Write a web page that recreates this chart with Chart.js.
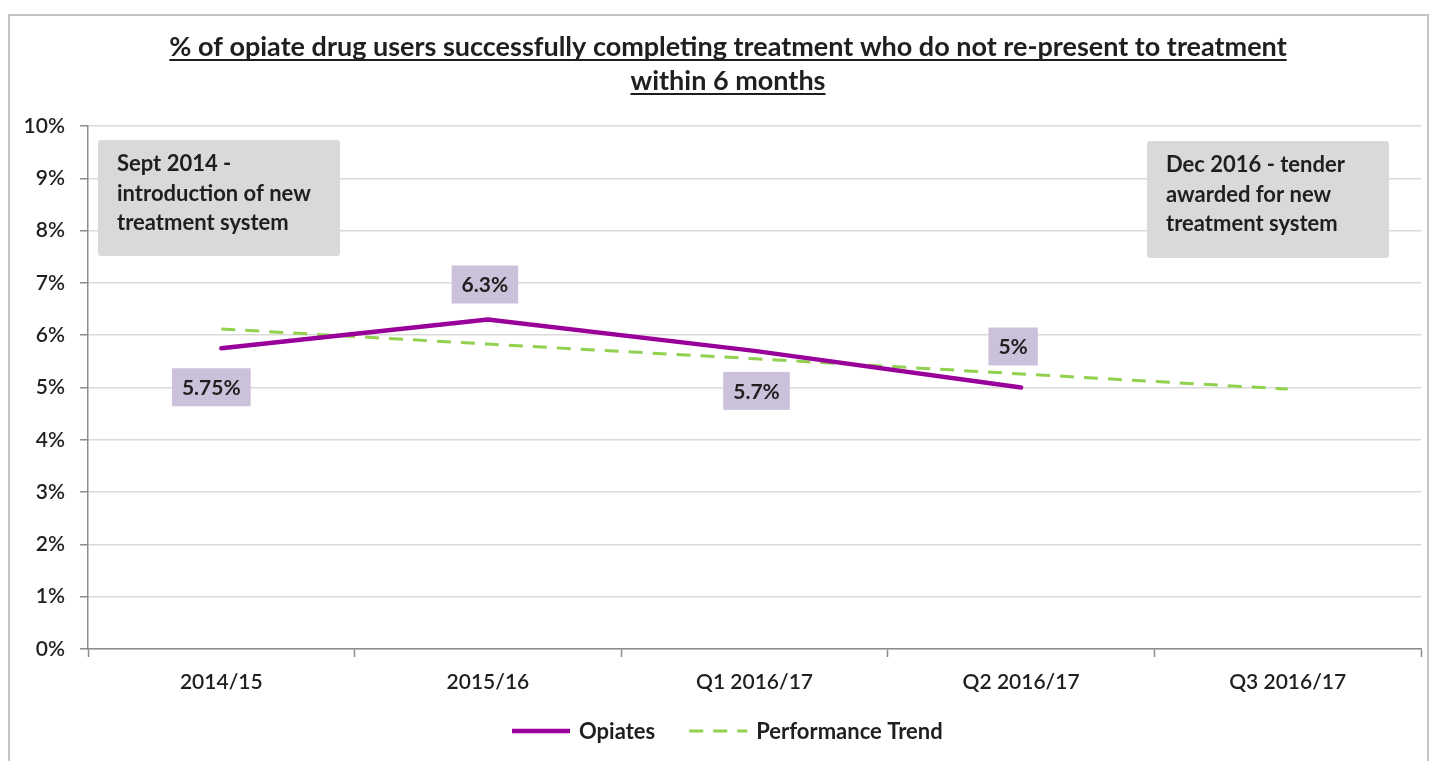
<!DOCTYPE html>
<html lang="en">
<head>
    <meta charset="UTF-8">
    <title>Opiate treatment completions</title>
    <script src="https://cdn.jsdelivr.net/npm/chart.js"></script>
    <style>
        body {
            margin: 0;
            width: 1431px;
            height: 761px;
            overflow: hidden;
            background: #fff;
            font-family: Lato, Arial, sans-serif;
        }
        .frame {
            position: absolute;
            left: 8px;
            top: 14px;
            width: 1417px;
            height: 800px;
            border: 2px solid #c4c4c4;
        }
        .wrap {
            position: absolute;
            left: 0;
            top: 0;
            width: 1431px;
            height: 761px;
        }
    </style>
</head>
<body>
    <div class="frame"></div>
    <div class="wrap"><canvas id="lineChart"></canvas></div>

    <script>
        const categories = ['2014/15', '2015/16', 'Q1 2016/17', 'Q2 2016/17', 'Q3 2016/17'];
        const opiates = [5.75, 6.3, 5.7, 5.0, null];
        const trend = [6.12, 5.83, 5.55, 5.26, 4.97];
        const valueLabels = ['5.75%', '6.3%', '5.7%', '5%'];
        const titleLines = [
            '% of opiate drug users successfully completing treatment who do not re-present to treatment',
            'within 6 months'
        ];
        const notes = [
            ['Sept 2014 -', 'introduction of new', 'treatment system'],
            ['Dec 2016 - tender', 'awarded for new', 'treatment system']
        ];

        const FONT = 'Lato, Arial, sans-serif';
        const TEXT = '#1f1f1f';

        // label box offsets from each point (px)
        const labelOffsets = [[-10, 39], [-3, -35], [2, 40], [-8, -41]];
        // note boxes: left, top relative to chart area
        const noteBoxes = [
            { x: 10, y: 14, w: 242, h: 116 },
            { x: 1059, y: 15, w: 242, h: 117 }
        ];

        const overlays = {
            id: 'overlays',
            afterDatasetsDraw(chart) {
                const ctx = chart.ctx;
                const area = chart.chartArea;
                ctx.save();

                // title with underline
                ctx.font = 'bold 27px ' + FONT;
                ctx.fillStyle = TEXT;
                ctx.strokeStyle = TEXT;
                ctx.lineWidth = 1.8;
                ctx.textAlign = 'center';
                ctx.textBaseline = 'alphabetic';
                const cx = 728;
                titleLines.forEach((t, i) => {
                    const y = 56 + i * 34;
                    ctx.fillText(t, cx, y);
                    const w = ctx.measureText(t).width;
                    ctx.beginPath();
                    ctx.moveTo(cx - w / 2, y + 4);
                    ctx.lineTo(cx + w / 2, y + 4);
                    ctx.stroke();
                });

                // note boxes
                notes.forEach((lines, i) => {
                    const b = noteBoxes[i];
                    const x = area.left + b.x, y = area.top + b.y;
                    ctx.fillStyle = '#d9d9d9';
                    ctx.beginPath();
                    ctx.roundRect(x, y, b.w, b.h, 3);
                    ctx.fill();
                    ctx.fillStyle = TEXT;
                    ctx.font = 'bold 22px ' + FONT;
                    ctx.textAlign = 'left';
                    ctx.textBaseline = 'middle';
                    lines.forEach((l, j) => ctx.fillText(l, x + 19, y + 24 + j * 29.5));
                });

                // value labels
                const meta = chart.getDatasetMeta(0);
                ctx.font = 'bold 21px ' + FONT;
                ctx.textAlign = 'center';
                ctx.textBaseline = 'middle';
                valueLabels.forEach((txt, i) => {
                    const p = meta.data[i];
                    const [dx, dy] = labelOffsets[i];
                    const w = ctx.measureText(txt).width + 20;
                    const h = 38;
                    const lx = p.x + dx, ly = p.y + dy;
                    ctx.fillStyle = '#ccc1da';
                    ctx.fillRect(lx - w / 2, ly - h / 2, w, h);
                    ctx.fillStyle = TEXT;
                    ctx.fillText(txt, lx, ly + 1);
                });

                // legend
                const ly = 731;
                let x = 512;
                chart.data.datasets.forEach((ds, i) => {
                    ctx.strokeStyle = ds.borderColor;
                    ctx.lineWidth = ds.borderWidth;
                    ctx.setLineDash(ds.borderDash || []);
                    ctx.beginPath();
                    ctx.moveTo(x, ly);
                    ctx.lineTo(x + 58, ly);
                    ctx.stroke();
                    ctx.setLineDash([]);
                    ctx.fillStyle = TEXT;
                    ctx.font = 'bold 22px ' + FONT;
                    ctx.textAlign = 'left';
                    ctx.fillText(ds.label, x + 67, ly + 1);
                    x += 67 + ctx.measureText(ds.label).width + 34;
                });

                ctx.restore();
            }
        };

        const ctx = document.getElementById('lineChart').getContext('2d');

        new Chart(ctx, {
            type: 'line',
            data: {
                labels: categories,
                datasets: [
                    {
                        label: 'Opiates',
                        data: opiates,
                        borderColor: '#990099',
                        borderWidth: 4.5,
                        pointRadius: 0,
                        tension: 0,
                        borderCapStyle: 'round'
                    },
                    {
                        label: 'Performance Trend',
                        data: trend,
                        borderColor: '#92d050',
                        borderWidth: 3,
                        borderDash: [14, 10],
                        pointRadius: 0,
                        tension: 0
                    }
                ]
            },
            options: {
                responsive: true,
                maintainAspectRatio: false,
                animation: false,
                layout: {
                    padding: { top: 126, left: 10, right: 10, bottom: 62 }
                },
                plugins: {
                    legend: { display: false },
                    title: { display: false },
                    tooltip: { enabled: false }
                },
                scales: {
                    x: {
                        offset: true,
                        afterFit(scale) { scale.height = 50; },
                        grid: {
                            offset: true,
                            drawOnChartArea: false,
                            tickLength: 8,
                            tickColor: '#8c8c8c',
                            tickWidth: 1.5
                        },
                        border: { color: '#8c8c8c', width: 1.5 },
                        ticks: {
                            color: TEXT,
                            padding: 13,
                            font: { family: FONT, size: 21, weight: '600' }
                        }
                    },
                    y: {
                        min: 0,
                        max: 10,
                        afterFit(scale) { scale.width = 78; },
                        grid: {
                            color: '#d9d9d9',
                            lineWidth: 1.5,
                            tickLength: 8,
                            tickColor: '#8c8c8c'
                        },
                        border: { color: '#8c8c8c', width: 1.5 },
                        ticks: {
                            stepSize: 1,
                            color: TEXT,
                            padding: 15,
                            font: { family: FONT, size: 21, weight: '600' },
                            callback: v => v + '%'
                        }
                    }
                }
            },
            plugins: [overlays]
        });
    </script>
</body>
</html>
